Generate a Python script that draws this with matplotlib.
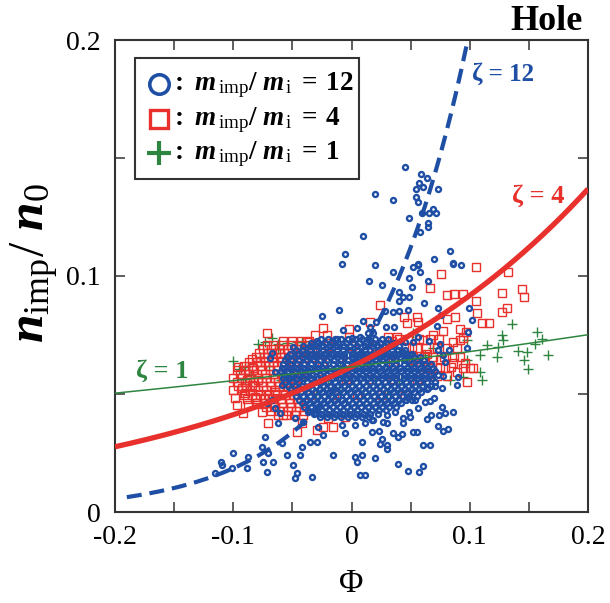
import numpy as np
import matplotlib
matplotlib.use("Agg")
import matplotlib.pyplot as plt
from matplotlib.patches import Rectangle
from matplotlib.lines import Line2D
from matplotlib.ticker import MultipleLocator, FuncFormatter

plt.rcParams.update({
    "font.family": ["Liberation Serif", "DejaVu Serif"],
    "mathtext.fontset": "custom",
    "mathtext.rm": "Liberation Serif",
    "mathtext.it": "Liberation Serif:italic",
    "mathtext.bf": "Liberation Serif:bold",
    "mathtext.bfit": "Liberation Serif:italic:bold",
    "axes.unicode_minus": False,
})

BLUE = "#1f4fa5"
RED = "#e8302c"
GREEN = "#2e8540"

# Boltzmann-like curves n = N_REF * exp(zeta * Phi)
N_REF = 0.0615
ZETAS = [12, 4, 1]

# ---------------- m_imp/m_i = 12 (circles) ----------------
blue_pts = [
    (0.0452, 0.1461), (0.0588, 0.1432), (0.0636, 0.1417), (0.0573, 0.1395),
    (0.0602, 0.1378), (0.0734, 0.1367), (0.0545, 0.1367), (0.0199, 0.1346),
    (0.0545, 0.1336), (0.0353, 0.1322), (0.0560, 0.1312), (0.0599, 0.1268),
    (0.0692, 0.1284), (0.0658, 0.1266), (0.0715, 0.1266), (0.0489, 0.1244),
    (0.0644, 0.1226), (0.0644, 0.1209), (0.0579, 0.1185), (0.0833, 0.1106),
    (0.0700, 0.1072), (0.0199, 0.1047), (0.0560, 0.1051), (0.0861, 0.1054),
    (0.0100, 0.1171), (-0.0055, 0.1093), (-0.0083, 0.1051), (0.0148, 0.0979),
    (-0.0252, 0.0832), (-0.0108, 0.0856), (-0.0074, 0.0771), (0.0095, 0.0811),
    (0.0044, 0.0778), (0.0156, 0.0785), (0.0142, 0.0758), (-0.0294, 0.0725),
    (-0.0125, 0.0733), (0.0002, 0.0736), (0.0072, 0.0740), (-0.0543, 0.0657),
    (-0.0670, 0.0675), (-0.0492, 0.0700), (-0.0689, 0.0654), (-0.0647, 0.0594),
    (0.0348, 0.1018), (0.0518, 0.1037), (0.0565, 0.1047), (0.0579, 0.1016),
    (0.0856, 0.1050), (0.0923, 0.1047), (0.0489, 0.0990), (0.0644, 0.0980),
    (0.0255, 0.0962), (0.0514, 0.0952), (0.0402, 0.0933), (0.0438, 0.0910),
    (0.0489, 0.0912), (0.0402, 0.0895), (0.0616, 0.0887), (0.0734, 0.0866),
    (0.0283, 0.0852), (0.0348, 0.0846), (0.0402, 0.0852), (0.0480, 0.0856),
    (0.0996, 0.0866), (0.0757, 0.0835), (0.1017, 0.0814), (0.0205, 0.0806),
    (0.0292, 0.0785), (0.0359, 0.0783), (0.0721, 0.0788), (0.0184, 0.0757),
    (0.0565, 0.0743), (0.0983, 0.0764), (0.0658, 0.0726), (0.0452, 0.0722),
    (0.0523, 0.0722), (0.0748, 0.0712), (0.0974, 0.0694), (0.0734, 0.0686),
    (0.0825, 0.0686), (0.0776, 0.0665), (0.0791, 0.0637), (0.0495, 0.0665),
    (0.0438, 0.0679),
    (-0.0732, 0.0319), (-0.0759, 0.0277), (-0.1000, 0.0249), (-0.0873, 0.0234),
    (-0.0704, 0.0249), (-0.0548, 0.0242), (-0.1104, 0.0213), (-0.0746, 0.0213),
    (-0.0661, 0.0213), (-0.0590, 0.0291), (-0.1098, 0.0199), (-0.1013, 0.0185),
    (-0.0886, 0.0185), (-0.1154, 0.0164), (-0.0717, 0.0168), (-0.0492, 0.0199),
    (-0.0463, 0.0164), (-0.0436, 0.0242), (-0.0421, 0.0277), (-0.0351, 0.0298),
    (-0.0294, 0.0298), (-0.0281, 0.0361), (-0.0238, 0.0326), (-0.0055, 0.0333),
    (-0.0154, 0.0242), (0.0086, 0.0298), (0.0030, 0.0234), (0.0086, 0.0242),
    (0.0044, 0.0213), (0.0072, 0.0157), (0.0114, 0.0157), (-0.0337, 0.0150),
    (-0.0478, 0.0143), (-0.0619, 0.0376), (-0.0605, 0.0418), (-0.0717, 0.0461),
    (-0.0675, 0.0475), (-0.0478, 0.0397), (-0.0408, 0.0383), (-0.0365, 0.0425),
    (-0.0309, 0.0418), (-0.0083, 0.0369), (0.0030, 0.0369), (0.0114, 0.0376),
    (0.0171, 0.0390), (-0.0590, 0.0538), (-0.0537, 0.0568), (-0.0647, 0.0441),
    (0.0776, 0.0576), (0.0903, 0.0571), (0.0890, 0.0538), (0.0706, 0.0534),
    (0.0649, 0.0527), (0.0763, 0.0527), (0.0700, 0.0484), (0.0664, 0.0470),
    (0.0622, 0.0465), (0.0763, 0.0446), (0.0856, 0.0422), (0.0791, 0.0418),
    (0.0742, 0.0411), (0.0672, 0.0411), (0.0636, 0.0394), (0.0480, 0.0482),
    (0.0537, 0.0475), (0.0565, 0.0439), (0.0489, 0.0425), (0.0495, 0.0404),
    (0.0438, 0.0397), (0.0438, 0.0376), (0.0368, 0.0425), (0.0298, 0.0411),
    (0.0269, 0.0383), (0.0298, 0.0376), (0.0184, 0.0390), (0.0734, 0.0364),
    (0.0819, 0.0352), (0.0771, 0.0344), (0.0523, 0.0340), (0.0551, 0.0340),
    (0.0425, 0.0329), (0.0396, 0.0319), (0.0348, 0.0333), (0.0235, 0.0344),
    (0.0171, 0.0340), (0.0255, 0.0309), (0.0241, 0.0288), (0.0298, 0.0284),
    (0.0303, 0.0267), (0.0602, 0.0284), (0.0664, 0.0284), (0.0199, 0.0228),
    (0.0391, 0.0202), (0.0602, 0.0196), (0.0480, 0.0174), (0.0571, 0.0168),
]

# dense central cloud, one row of Phi values per density level
blue_core = [
    (0.0731, [-0.026, -0.020, -0.014, -0.009, -0.003, 0.003, 0.009, 0.014, 0.020, 0.026, 0.031]),
    (0.0716, [-0.034, -0.028, -0.022, -0.017, -0.011, -0.005, 0.001, 0.006, 0.012, 0.018,
              0.024, 0.030, 0.036]),
    (0.0702, [-0.041, -0.035, -0.029, -0.024, -0.018, -0.012, -0.006, -0.001, 0.005, 0.011,
              0.017, 0.022, 0.028, 0.034, 0.040]),
    (0.0687, [-0.047, -0.041, -0.035, -0.030, -0.024, -0.018, -0.012, -0.007, -0.001, 0.005,
              0.011, 0.016, 0.022, 0.028, 0.034, 0.039, 0.045]),
    (0.0671, [-0.052, -0.046, -0.040, -0.035, -0.029, -0.023, -0.017, -0.012, -0.006, 0.000,
              0.006, 0.012, 0.017, 0.023, 0.029, 0.035, 0.040, 0.046, 0.051]),
    (0.0656, [-0.054, -0.048, -0.042, -0.036, -0.030, -0.024, -0.018, -0.012, -0.006, 0.000,
              0.006, 0.012, 0.018, 0.024, 0.029, 0.035, 0.041, 0.047, 0.053, 0.058]),
    (0.0642, [-0.056, -0.050, -0.044, -0.038, -0.032, -0.027, -0.021, -0.015, -0.009, -0.003,
              0.003, 0.009, 0.014, 0.020, 0.026, 0.032, 0.038, 0.044, 0.049, 0.055, 0.061]),
    (0.0627, [-0.058, -0.052, -0.046, -0.040, -0.034, -0.028, -0.022, -0.016, -0.010, -0.004,
              0.002, 0.008, 0.014, 0.020, 0.026, 0.032, 0.038, 0.044, 0.050, 0.056, 0.062,
              0.067]),
    (0.0611, [-0.059, -0.053, -0.047, -0.041, -0.035, -0.029, -0.024, -0.018, -0.012, -0.006,
              0.000, 0.006, 0.012, 0.018, 0.023, 0.029, 0.035, 0.041, 0.047, 0.053, 0.058,
              0.064, 0.069]),
    (0.0596, [-0.060, -0.054, -0.048, -0.042, -0.036, -0.030, -0.024, -0.018, -0.012, -0.006,
              0.000, 0.006, 0.012, 0.018, 0.024, 0.030, 0.036, 0.042, 0.047, 0.053, 0.059,
              0.065, 0.071]),
    (0.0582, [-0.057, -0.051, -0.045, -0.039, -0.033, -0.027, -0.021, -0.015, -0.009, -0.003,
              0.003, 0.009, 0.015, 0.021, 0.026, 0.032, 0.038, 0.044, 0.050, 0.056, 0.062,
              0.067, 0.073]),
    (0.0567, [-0.058, -0.052, -0.046, -0.040, -0.034, -0.028, -0.022, -0.016, -0.010, -0.004,
              0.002, 0.008, 0.014, 0.020, 0.026, 0.032, 0.038, 0.044, 0.050, 0.056, 0.062,
              0.068]),
    (0.0551, [-0.056, -0.050, -0.044, -0.038, -0.032, -0.026, -0.020, -0.014, -0.008, -0.002,
              0.004, 0.010, 0.016, 0.022, 0.028, 0.034, 0.040, 0.046, 0.052, 0.058, 0.064, 0.071]),
    (0.0536, [-0.054, -0.048, -0.042, -0.036, -0.030, -0.024, -0.018, -0.012, -0.006, 0.000,
              0.006, 0.012, 0.018, 0.024, 0.030, 0.036, 0.042, 0.048, 0.054, 0.060, 0.067]),
    (0.0522, [-0.051, -0.045, -0.039, -0.033, -0.027, -0.021, -0.015, -0.009, -0.003, 0.003,
              0.009, 0.015, 0.021, 0.027, 0.033, 0.039, 0.045, 0.051, 0.057, 0.064]),
    (0.0507, [-0.049, -0.043, -0.037, -0.031, -0.025, -0.019, -0.013, -0.007, -0.001, 0.005,
              0.011, 0.017, 0.023, 0.029, 0.035, 0.041, 0.047, 0.053, 0.059]),
    (0.0491, [-0.047, -0.041, -0.035, -0.029, -0.023, -0.017, -0.011, -0.005, 0.001, 0.007,
              0.013, 0.019, 0.025, 0.031, 0.037, 0.043, 0.049, 0.055]),
    (0.0476, [-0.044, -0.038, -0.032, -0.026, -0.020, -0.014, -0.008, -0.002, 0.004, 0.010,
              0.016, 0.022, 0.028, 0.034, 0.040, 0.046, 0.051]),
    (0.0462, [-0.042, -0.036, -0.030, -0.024, -0.018, -0.012, -0.006, 0.000, 0.006, 0.012,
              0.018, 0.024, 0.030, 0.036, 0.042]),
    (0.0447, [-0.040, -0.034, -0.028, -0.022, -0.016, -0.010, -0.004, 0.002, 0.008, 0.014,
              0.020, 0.026, 0.032, 0.038]),
    (0.0431, [-0.037, -0.031, -0.025, -0.019, -0.013, -0.007, -0.001, 0.005, 0.011, 0.017,
              0.023, 0.029]),
    (0.0416, [-0.032, -0.026, -0.020, -0.014, -0.008, -0.002, 0.004, 0.010, 0.016, 0.022]),
    (0.0402, [-0.027, -0.021, -0.015, -0.009, -0.003, 0.003, 0.009, 0.015]),
]

# ---------------- m_imp/m_i = 4 (squares) ----------------
red_pts = [
    (-0.0712, 0.0760), (-0.0238, 0.0781), (-0.0309, 0.0750), (-0.0210, 0.0750),
    (-0.0019, 0.0774), (-0.0019, 0.0743), (0.0156, 0.0806), (-0.0717, 0.0708),
    (-0.0605, 0.0675), (-0.0844, 0.0648), (-0.0774, 0.0637), (-0.0957, 0.0613),
    (-0.0830, 0.0609), (-0.0379, 0.0722),
    (0.1053, 0.1037), (0.0757, 0.1008), (0.1326, 0.1018), (0.0664, 0.0948),
    (0.0805, 0.0919), (0.0867, 0.0924), (0.0945, 0.0924), (0.1270, 0.0927),
    (0.1439, 0.0944), (0.1459, 0.0912), (0.1053, 0.0895), (0.0241, 0.0877),
    (0.1312, 0.0863), (0.1270, 0.0849), (0.1064, 0.0845), (0.0447, 0.0825),
    (0.0551, 0.0825), (0.0565, 0.0806), (0.0810, 0.0817), (0.0875, 0.0825),
    (0.0467, 0.0800), (0.1101, 0.0800), (0.1163, 0.0802), (0.0771, 0.0768),
    (0.0692, 0.0750), (0.0918, 0.0774), (0.0918, 0.0729), (0.0861, 0.0722),
    (0.0945, 0.0736), (0.0968, 0.0764), (0.0382, 0.0743), (0.0311, 0.0740),
    (0.0340, 0.0726), (0.0607, 0.0729), (0.0509, 0.0700), (0.0748, 0.0644),
    (0.0861, 0.0630), (0.0960, 0.0633), (0.1030, 0.0609), (0.0636, 0.0669),
    (0.0523, 0.0644), (0.0579, 0.0616), (0.0918, 0.0658),
    (-0.0985, 0.0482), (-0.0929, 0.0524), (-0.1000, 0.0517), (-0.0844, 0.0538),
    (-0.0901, 0.0503), (-0.0816, 0.0489), (-0.0971, 0.0453), (-0.0873, 0.0453),
    (-0.0759, 0.0425), (-0.0915, 0.0418), (-0.0704, 0.0376), (-0.0577, 0.0411),
    (-0.0463, 0.0340), (-0.0421, 0.0376), (-0.0294, 0.0347), (-0.0238, 0.0361),
    (-0.0196, 0.0397), (-0.0055, 0.0404), (-0.0154, 0.0361), (-0.0732, 0.0482),
    (-0.0647, 0.0510), (-0.0788, 0.0559), (-0.0886, 0.0559), (-0.0873, 0.0602),
    (0.0890, 0.0594), (0.0974, 0.0552), (0.1002, 0.0609), (0.0945, 0.0609),
    (0.0664, 0.0609), (0.0791, 0.0609),
]

red_core = [
    (0.0725, [-0.058, -0.050, -0.043, -0.036]),
    (0.0707, [-0.066, -0.058, -0.051, -0.044, -0.037]),
    (0.0690, [-0.075, -0.068, -0.061, -0.054, -0.047, -0.040, -0.033]),
    (0.0672, [-0.078, -0.071, -0.064, -0.057, -0.050, -0.043, -0.036]),
    (0.0655, [-0.081, -0.074, -0.067, -0.060, -0.053, -0.046, -0.039, -0.032]),
    (0.0637, [-0.087, -0.080, -0.073, -0.066, -0.059, -0.052, -0.045]),
    (0.0620, [-0.091, -0.084, -0.077, -0.070, -0.063, -0.056, -0.049, -0.042]),
    (0.0602, [-0.097, -0.090, -0.083, -0.076, -0.069, -0.062, -0.055, -0.048, -0.041]),
    (0.0585, [-0.094, -0.087, -0.080, -0.073, -0.066, -0.059, -0.052, -0.045, -0.038]),
    (0.0567, [-0.100, -0.093, -0.086, -0.079, -0.072, -0.065, -0.058, -0.051]),
    (0.0550, [-0.097, -0.090, -0.083, -0.076, -0.069, -0.062, -0.055, -0.048]),
    (0.0532, [-0.096, -0.089, -0.082, -0.075, -0.068, -0.061, -0.054, -0.047]),
    (0.0515, [-0.093, -0.086, -0.079, -0.072, -0.065, -0.058, -0.051, -0.044]),
    (0.0497, [-0.091, -0.084, -0.077, -0.070, -0.063, -0.056, -0.049]),
    (0.0480, [-0.088, -0.081, -0.074, -0.067, -0.060, -0.053, -0.046]),
    (0.0462, [-0.080, -0.073, -0.066, -0.059, -0.052, -0.045]),
    (0.0445, [-0.072, -0.065, -0.058, -0.051, -0.044]),
    (0.0427, [-0.068, -0.061, -0.054, -0.047, -0.040]),
    (0.0410, [-0.062, -0.055, -0.048, -0.041]),
    (0.0705, [-0.020, 0.000, 0.020]),
    (0.0635, [-0.025, -0.005, 0.015, 0.035, 0.055]),
    (0.0565, [-0.025, -0.005, 0.015, 0.035, 0.055]),
    (0.0495, [-0.035, -0.015, 0.005, 0.025, 0.045]),
    (0.0735, [0.040, 0.048, 0.057, 0.066, 0.074]),
    (0.0695, [0.046, 0.055, 0.063, 0.072, 0.081, 0.089]),
    (0.0655, [0.052, 0.061, 0.069, 0.078, 0.087]),
    (0.0615, [0.058, 0.066, 0.075, 0.084]),
    (0.0575, [0.064, 0.072, 0.081]),
]

# ---------------- m_imp/m_i = 1 (crosses) ----------------
green_pts = [
    (-0.0788, 0.0711), (-0.0732, 0.0722), (-0.0619, 0.0712), (-0.0543, 0.0717),
    (-0.0619, 0.0689), (-0.0463, 0.0722), (-0.0421, 0.0722), (-0.0901, 0.0613),
    (-0.0774, 0.0658), (-0.0675, 0.0736), (-0.0950, 0.0605), (-0.0900, 0.0565),
    (-0.0850, 0.0580), (-0.1000, 0.0640),
    (0.1355, 0.0797), (0.1270, 0.0750), (0.1284, 0.0729), (0.1143, 0.0708),
    (0.1566, 0.0764), (0.1608, 0.0733), (0.1552, 0.0712), (0.1241, 0.0698),
    (0.1411, 0.0682), (0.1482, 0.0679), (0.1087, 0.0665), (0.1228, 0.0658),
    (0.1461, 0.0644), (0.1490, 0.0605), (0.0523, 0.0757), (0.0974, 0.0729),
    (0.0692, 0.0694), (0.0622, 0.0665), (0.0974, 0.0644), (0.1664, 0.0665),
    (0.1087, 0.0594), (0.1106, 0.0559), (0.0833, 0.0559), (0.0945, 0.0573),
]

green_core = [
    (0.0680, [-0.040, -0.020, 0.000, 0.020, 0.040]),
    (0.0620, [-0.070, -0.050, -0.030, -0.010, 0.010, 0.030, 0.050]),
    (0.0560, [-0.060, -0.040, -0.020, 0.000, 0.020, 0.040, 0.060]),
    (0.0500, [-0.030, -0.010, 0.010, 0.030]),
]


def gather(points, rows):
    phi = [p for p, _ in points]
    n = [v for _, v in points]
    for level, row in rows:
        phi.extend(row)
        n.extend([level] * len(row))
    return np.array(phi), np.array(n)


blue_phi, blue_n = gather(blue_pts, blue_core)
red_phi, red_n = gather(red_pts, red_core)
green_phi, green_n = gather(green_pts, green_core)

fig = plt.figure(figsize=(6.10, 6.03), dpi=100)
ax = fig.add_axes([115 / 610, 91 / 603, 473 / 610, 472 / 603])

ax.plot(green_phi, green_n, ls="none", marker="+", ms=7, mew=1.0, color=GREEN, zorder=2)
ax.plot(red_phi, red_n, ls="none", marker="s", ms=6.2, mew=1.0, mfc="none", mec=RED, zorder=3)
ax.plot(blue_phi, blue_n, ls="none", marker="o", ms=3.6, mew=1.7, mfc="none", mec=BLUE, zorder=4)

# model curves
phi12 = np.linspace(-0.19, 0.1, 200)
ax.plot(phi12, N_REF * np.exp(ZETAS[0] * phi12), color=BLUE, lw=3.0,
        dashes=(3.6, 1.9), zorder=5)
phi_all = np.linspace(-0.2, 0.2, 200)
ax.plot(phi_all, N_REF * np.exp(ZETAS[1] * phi_all), color=RED, lw=3.8, zorder=5,
        solid_capstyle="butt")
ax.plot(phi_all, N_REF * np.exp(ZETAS[2] * phi_all), color=GREEN, lw=1.1, zorder=5)

ax.text(0.102, 0.1855, "ζ = 12", color=BLUE, fontsize=18, fontweight="bold",
        ha="left", va="center")
ax.text(0.136, 0.134, "ζ = 4", color=RED, fontsize=19, fontweight="bold",
        ha="left", va="center")
ax.text(-0.182, 0.0595, "ζ = 1", color=GREEN, fontsize=19, fontweight="bold",
        ha="left", va="center")

ax.set_xlim(-0.2, 0.2)
ax.set_ylim(0, 0.2)
ax.xaxis.set_major_locator(MultipleLocator(0.05))
ax.yaxis.set_major_locator(MultipleLocator(0.05))


def tick_fmt(v, _pos):
    k = round(v * 10)
    if abs(v * 10 - k) > 1e-6:
        return ""
    if k == 0:
        return "0"
    return "%.1f" % (k / 10)


ax.xaxis.set_major_formatter(FuncFormatter(tick_fmt))
ax.yaxis.set_major_formatter(FuncFormatter(tick_fmt))
ax.tick_params(direction="in", length=7, width=1.1, top=True, right=True,
               labelsize=20, color="#333333")
ax.tick_params(axis="x", pad=9)
ax.tick_params(axis="y", pad=10)
for s in ax.spines.values():
    s.set_linewidth(1.5)
    s.set_color("#333333")

fig.text(351.5 / 610, 1 - 584 / 603, "Φ", fontsize=24, ha="center", va="center")
fig.text(35 / 610, 1 - 263 / 603, r"$\mathbfit{n}_{\mathrm{imp}}/\ \mathbfit{n}_{0}$",
         fontsize=37, rotation=90, ha="center", va="center")
fig.text(583 / 610, 1 - 30 / 603, "Hole", fontsize=26, fontweight="bold",
         ha="right", va="baseline")

# legend box
lx0, lx1 = (135 - 115) / 473, (359 - 115) / 473
ly0, ly1 = (512 - 179) / 472, (512 - 58) / 472
ax.add_patch(Rectangle((lx0, ly0), lx1 - lx0, ly1 - ly0, transform=ax.transAxes,
                       facecolor="white", edgecolor="#333333", lw=1.5, zorder=10))
legend_rows = [
    ("o", BLUE, "12", 84), ("s", RED, "4", 119), ("+", GREEN, "1", 153),
]
for mk, col, val, ypx in legend_rows:
    yax = (512 - ypx) / 472
    kw = dict(marker=mk, ls="none", ms=14, mew=2.6, color=col, mfc="none",
              transform=ax.transAxes, zorder=11, clip_on=False)
    if mk == "+":
        kw.update(ms=17, mew=3.0)
    if mk == "s":
        kw.update(ms=13, mew=2.4)
    ax.add_line(Line2D([(159 - 115) / 473], [yax], **kw))
    label = (r"$\mathbf{:}\ \mathbfit{m}_{\,\mathrm{imp}}\mathbf{/}\ \mathbfit{m}_{\,\mathrm{i}}"
             r"\;\mathbf{=}\;\mathbf{" + val + r"}$")
    ax.text((171 - 115) / 473, (512 - ypx - 6) / 472, label, transform=ax.transAxes,
            fontsize=19.5, ha="left", va="baseline", zorder=12)

fig.savefig("out.png", dpi=100)
